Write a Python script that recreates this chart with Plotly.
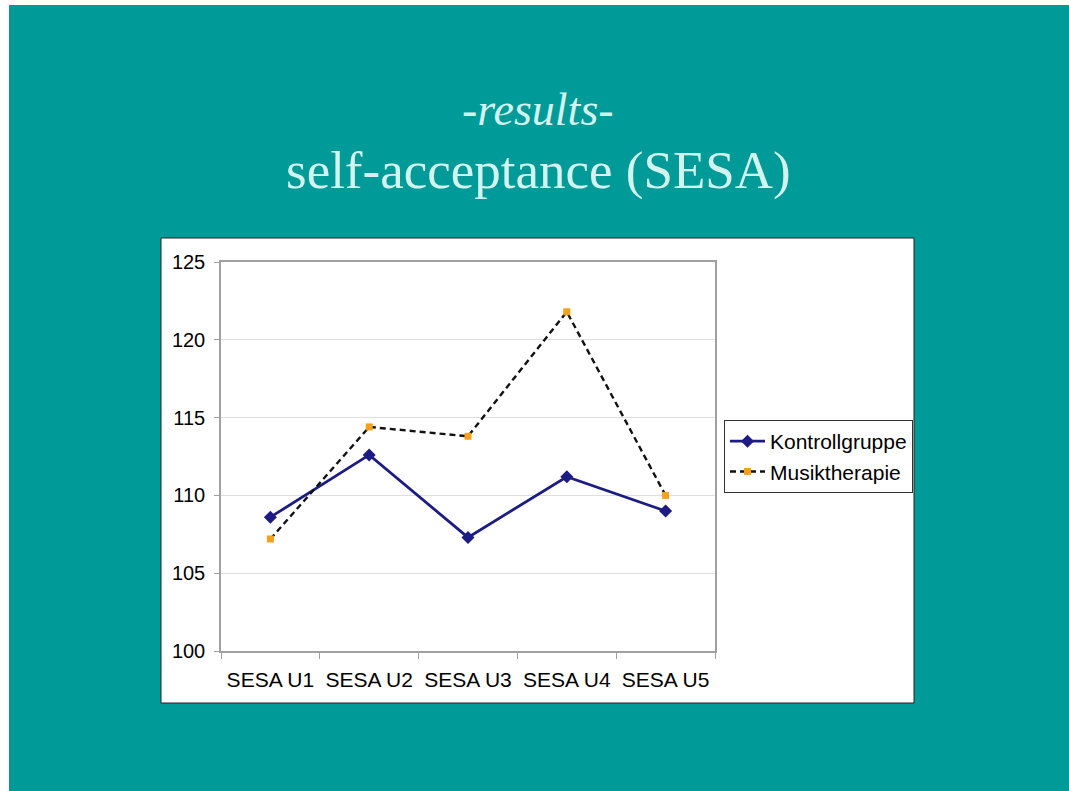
import plotly.graph_objects as go

categories = ["SESA U1", "SESA U2", "SESA U3", "SESA U4", "SESA U5"]
kontrollgruppe = [108.6, 112.6, 107.3, 111.2, 109.0]
musiktherapie = [107.2, 114.4, 113.8, 121.8, 110.0]
y_ticks = [100, 105, 110, 115, 120, 125]

W, H = 1069, 791
L, R, T, B = 221, 715, 262, 651  # plot area in px

def px_x(p):
    return (p - L) / (R - L)

def px_y(p):
    return (B - p) / (B - T)

fig = go.Figure()
fig.add_trace(go.Scatter(
    x=categories, y=kontrollgruppe, name="Kontrollgruppe",
    mode="lines+markers",
    line=dict(color="#1c1c84", width=2.8),
    marker=dict(symbol="diamond", size=10, color="#1c1c84"),
))
fig.add_trace(go.Scatter(
    x=categories, y=musiktherapie, name="Musiktherapie",
    mode="lines+markers",
    line=dict(color="#111111", width=2.4, dash="6px,4px"),
    marker=dict(symbol="square", size=7, color="#f5a11c"),
))

teal = "#009a98"
shapes = [
    dict(type="rect", xref="paper", yref="paper", layer="below",
         x0=px_x(9), x1=px_x(W + 30), y0=px_y(H + 30), y1=px_y(5),
         fillcolor=teal, line=dict(width=0)),
    dict(type="rect", xref="paper", yref="paper", layer="below",
         x0=px_x(161), x1=px_x(914), y0=px_y(703), y1=px_y(238),
         fillcolor="white", line=dict(color="#222222", width=1)),
]

title_color = "#d2f4ee"
annotations = [
    dict(text="<i>-results-</i>", xref="paper", yref="paper",
         x=px_x(538), y=px_y(110), xanchor="center", yanchor="middle",
         showarrow=False,
         font=dict(family="Liberation Serif, Times New Roman, serif", size=46, color=title_color)),
    dict(text="self-acceptance (SESA)", xref="paper", yref="paper",
         x=px_x(538), y=px_y(170), xanchor="center", yanchor="middle",
         showarrow=False,
         font=dict(family="Liberation Serif, Times New Roman, serif", size=53, color=title_color)),
]

xfont = dict(family="Liberation Sans, Arial, sans-serif", size=21, color="black")
yfont = dict(family="Liberation Sans, Arial, sans-serif", size=20, color="black")

fig.update_layout(
    width=W, height=H,
    margin=dict(l=L, r=W - R, t=T, b=H - B, pad=0),
    paper_bgcolor="white",
    plot_bgcolor="white",
    shapes=shapes,
    annotations=annotations,
    showlegend=True,
    legend=dict(
        x=px_x(724), y=px_y(420), xanchor="left", yanchor="top",
        bgcolor="white", bordercolor="#333333", borderwidth=1,
        font=dict(family="Liberation Sans, Arial, sans-serif", size=21, color="black"),
        tracegroupgap=0, itemwidth=35,
    ),
    xaxis=dict(
        type="category", tickson="boundaries", ticks="outside", ticklen=6,
        tickcolor="#a0a0a0", showline=True, linecolor="#a0a0a0", linewidth=1.5,
        mirror=True, showgrid=False, tickfont=xfont, ticklabelstandoff=9,
        range=[-0.5, 4.5],
    ),
    yaxis=dict(
        range=[100, 125], tickvals=y_ticks, ticks="outside", ticklen=5,
        tickcolor="#a0a0a0", showline=True, linecolor="#a0a0a0", linewidth=1.5,
        mirror=True, showgrid=True, gridcolor="#dedede", gridwidth=1,
        tickfont=yfont, ticklabelstandoff=5, zeroline=False,
    ),
)

fig.write_html(
    "out.html",
    config={"displayModeBar": False},
    post_script=(
        "document.body.style.margin='0';"
        "document.documentElement.style.overflow='hidden';"
        "document.body.style.overflow='hidden';"
    ),
)
